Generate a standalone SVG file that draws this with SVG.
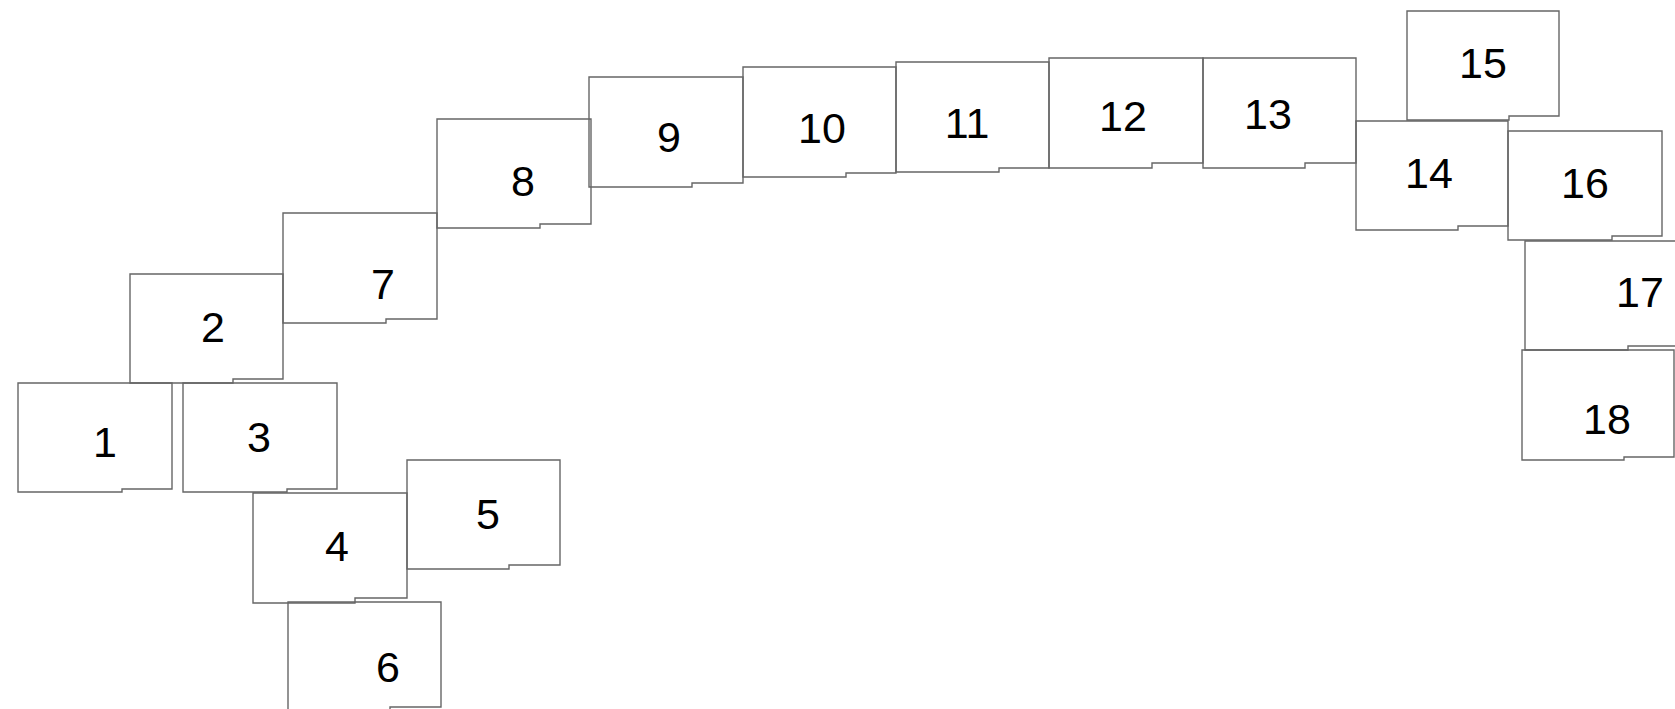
<svg xmlns="http://www.w3.org/2000/svg" width="1675" height="709" viewBox="0 0 1675 709">
<style>
.b{fill:none;stroke:#666;stroke-width:1.4}
.t{font-family:"Liberation Sans",Arial,sans-serif;font-size:43px;fill:#000;text-anchor:middle}
</style>
<rect width="1675" height="709" fill="#fff"/>
<g id="n1"><path class="b" d="M18,383 H172 V489 H122 V492 H18 Z"/><text class="t" x="105" y="457">1</text></g>
<g id="n2"><path class="b" d="M130,274 H283 V379 H233 V383 H130 Z"/><text class="t" x="213" y="342">2</text></g>
<g id="n3"><path class="b" d="M183,383 H337 V489 H287 V492 H183 Z"/><text class="t" x="259" y="452">3</text></g>
<g id="n4"><path class="b" d="M253,493 H407 V598 H355 V603 H253 Z"/><text class="t" x="337" y="561">4</text></g>
<g id="n5"><path class="b" d="M407,460 H560 V565 H509 V569 H407 Z"/><text class="t" x="488" y="529">5</text></g>
<g id="n6"><path class="b" d="M288,602 H441 V707 H390 V711 H288 Z"/><text class="t" x="388" y="682">6</text></g>
<g id="n7"><path class="b" d="M283,213 H437 V319 H386 V323 H283 Z"/><text class="t" x="383" y="299">7</text></g>
<g id="n8"><path class="b" d="M437,119 H591 V224 H540 V228 H437 Z"/><text class="t" x="523" y="196">8</text></g>
<g id="n9"><path class="b" d="M589,77 H743 V183 H692 V187 H589 Z"/><text class="t" x="669" y="152">9</text></g>
<g id="n10"><path class="b" d="M743,67 H896 V173 H846 V177 H743 Z"/><text class="t" x="822" y="143">10</text></g>
<g id="n11"><path class="b" d="M896,62 H1049 V168 H999 V172 H896 Z"/><text class="t" x="967" y="138">11</text></g>
<g id="n12"><path class="b" d="M1049,58 H1203 V163 H1152 V168 H1049 Z"/><text class="t" x="1123" y="131">12</text></g>
<g id="n13"><path class="b" d="M1203,58 H1356 V163 H1305 V168 H1203 Z"/><text class="t" x="1268" y="129">13</text></g>
<g id="n14"><path class="b" d="M1356,121 H1508 V226 H1458 V230 H1356 Z"/><text class="t" x="1429" y="188">14</text></g>
<g id="n15"><path class="b" d="M1407,11 H1559 V116 H1509 V120 H1407 Z"/><text class="t" x="1483" y="78">15</text></g>
<g id="n16"><path class="b" d="M1508,131 H1662 V236 H1612 V240 H1508 Z"/><text class="t" x="1585" y="198">16</text></g>
<g id="n17"><path class="b" d="M1525,241 H1678 V346 H1628 V350 H1525 Z"/><text class="t" x="1640" y="307">17</text></g>
<g id="n18"><path class="b" d="M1522,350 H1674 V457 H1624 V460 H1522 Z"/><text class="t" x="1607" y="434">18</text></g>
<g id="connectors"></g>
</svg>
